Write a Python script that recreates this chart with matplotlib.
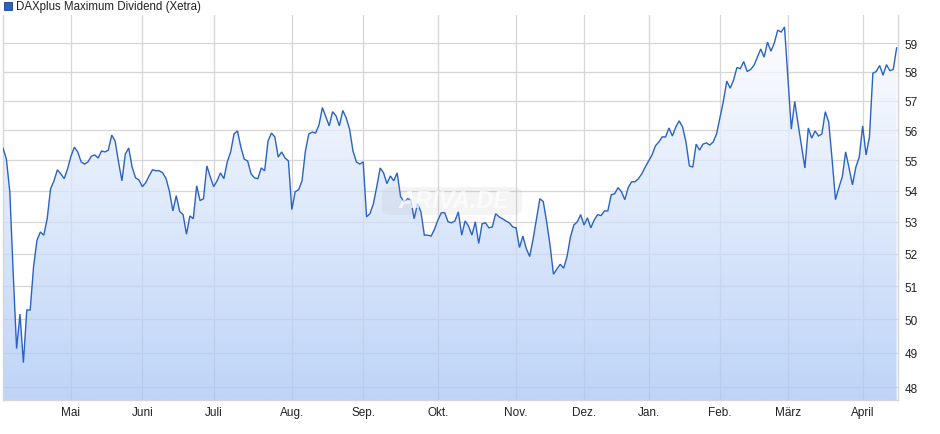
import numpy as np
import pandas as pd
import matplotlib
matplotlib.use("Agg")
import matplotlib.pyplot as plt
from matplotlib.patches import FancyBboxPatch, Rectangle
from matplotlib.colors import LinearSegmentedColormap

# ---------------- data ----------------
series_name = "DAXplus Maximum Dividend (Xetra)"
holidays = ["2025-04-18", "2025-04-21", "2025-05-01", "2025-12-24", "2025-12-25",
            "2025-12-26", "2025-12-31", "2026-01-01", "2026-04-03", "2026-04-06"]
start_date = "2025-04-01"
end_date = "2026-04-17"

values = [
    55.4, 55.03, 53.97, 51.4, 49.12, 50.15, 48.71, 50.27, 50.27, 51.6,
    52.42, 52.68, 52.58, 53.10, 54.06, 54.32, 54.68, 54.55, 54.39, 54.71,
    55.13, 55.43, 55.27, 54.94, 54.87, 54.94, 55.13, 55.17, 55.07, 55.3,
    55.27, 55.33, 55.83, 55.63, 54.94, 54.32, 55.2, 55.4, 54.77, 54.42,
    54.35, 54.13, 54.26, 54.48, 54.68, 54.65, 54.65, 54.58, 54.39, 53.97,
    53.35, 53.84, 53.33,
    53.23, 52.61, 53.19, 53.1, 54.16, 53.68, 53.74, 54.81, 54.45, 54.13,
    54.32, 54.58, 54.39, 54.94, 55.27, 55.87, 55.97, 55.43, 55.03, 54.97,
    54.55, 54.42, 54.39, 54.74, 54.65, 55.63, 55.9, 55.77, 55.1, 55.27,
    55.07, 54.97, 53.39, 53.97, 54.03, 54.32, 55.3, 55.87, 55.93, 55.9,
    56.17, 56.76, 56.45, 56.14, 56.62, 56.48, 56.14, 56.66, 56.41, 56.03,
    55.3, 54.94,
    54.87, 54.94, 53.16, 53.26, 53.58, 54.13, 54.74, 54.58, 54.23, 54.48,
    54.32, 54.58, 53.81, 53.65, 53.74, 53.71, 53.1, 53.58, 53.32, 52.58,
    52.58, 52.55, 52.77, 53.06, 53.29, 53.29, 53.0, 52.97, 53.03, 53.32,
    52.58, 53.03, 52.87, 52.58, 53.0, 52.32, 52.94, 52.97, 52.81, 52.84,
    53.26, 53.16, 53.1, 53.03, 52.97, 52.84, 52.81, 52.19, 52.55, 52.16,
    51.91, 52.45,
    53.1, 53.74, 53.65, 53.0, 52.26, 51.36, 51.52, 51.67, 51.55, 51.91,
    52.52, 52.9, 53.0, 53.23, 52.9, 53.13, 52.81, 53.06, 53.23, 53.2,
    53.35, 53.35,
    53.87, 53.9, 54.1, 53.97, 53.71, 54.1, 54.29, 54.29, 54.39, 54.55,
    54.77, 54.97, 55.17, 55.47, 55.6, 55.77, 55.77, 56.07, 55.8, 56.1,
    56.31, 56.1, 55.6, 54.81, 54.77, 55.53, 55.33, 55.53, 55.57, 55.5,
    55.6,
    55.87, 56.41, 56.97, 57.67, 57.42, 57.7, 58.14, 58.1, 58.35, 58.0,
    58.07, 58.21, 58.5, 58.79, 58.5, 59.03, 58.71, 59.0, 59.46, 59.39,
    59.57,
    57.8,
    56.03, 56.97, 56.2, 55.47, 54.74, 56.07, 55.73, 55.97, 55.8, 55.87,
    56.62, 56.27, 55.03, 53.71, 54.1, 54.45, 55.27, 54.74, 54.19, 54.77,
    55.1, 56.14, 55.17, 55.77, 57.94, 58.0, 58.21, 57.87, 58.24, 58.03,
    58.07, 58.83,
]

month_labels = ["Mai", "Juni", "Juli", "Aug.", "Sep.", "Okt.", "Nov.", "Dez.",
                "Jan.", "Feb.", "März", "April"]
y_ticks = [48, 49, 50, 51, 52, 53, 54, 55, 56, 57, 58, 59]

# ---------------- derived ----------------
dates = pd.bdate_range(start_date, end_date)
dates = dates[~dates.isin(pd.to_datetime(holidays))]
n = min(len(dates), len(values))
dates = dates[:n]
y = np.array(values[:n])
x = np.arange(n)

month_id = dates.year * 12 + dates.month
tick_pos = [i for i in range(1, n) if month_id[i] != month_id[i - 1]]

# ---------------- figure ----------------
W, H = 940, 435
fig = plt.figure(figsize=(W / 100, H / 100), dpi=100)
ax = fig.add_axes([3 / W, 1 - 401 / H, (898 - 3) / W, (401 - 16) / H])
ax.set_yscale("log")
ax.set_xlim(0, n - 1 + 0.4)
ax.set_ylim(47.63, 60.0)

# grid (underneath the semi-transparent fill)
ax.set_yticks(y_ticks)
ax.set_yticks([], minor=True)
ax.set_xticks(tick_pos)
ax.set_xticklabels(month_labels[:len(tick_pos)])
ax.set_yticklabels([str(t) for t in y_ticks])
for t in y_ticks:
    ax.axhline(t, color="#d6d6d6", lw=0.9, zorder=0.5)
for p in tick_pos:
    ax.axvline(p, color="#d6d6d6", lw=0.9, zorder=0.5)

# gradient fill under the line
poly = ax.fill_between(x, y, 1, color="none", linewidth=0)
cmap = LinearSegmentedColormap.from_list("g", ["#a9c6f5", "#ffffff"])
grad = np.linspace(0, 1, 256).reshape(-1, 1)
im = ax.imshow(grad, extent=[0, 1, 0, 1], transform=ax.transAxes, origin="lower",
               cmap=cmap, aspect="auto", zorder=1, interpolation="bilinear",
               alpha=0.75)
im.set_clip_path(poly.get_paths()[0], poly.get_transform())

ax.plot(x, y, color="#2b62c4", lw=1.0, zorder=4, solid_joinstyle="miter")

ax.yaxis.tick_right()
ax.tick_params(axis="y", length=0, pad=5, labelsize=8.5, labelcolor="#222222")
ax.tick_params(axis="x", length=0, pad=4, labelsize=8.5, labelcolor="#222222")
for lab in ax.get_yticklabels():
    lab.set_family(["Liberation Sans", "DejaVu Sans"])
for lab in ax.get_xticklabels():
    lab.set_family(["Liberation Sans Narrow", "Liberation Sans", "DejaVu Sans"])

for s in ["left", "right", "bottom"]:
    ax.spines[s].set_color("#d6d6d6")
    ax.spines[s].set_linewidth(1.0)
ax.spines["top"].set_visible(False)

# watermark
wm = FancyBboxPatch((382 / W, 1 - 216 / H), 140 / W, 28 / H,
                    boxstyle="round,pad=0,rounding_size=0.012",
                    transform=fig.transFigure, facecolor="#9a9a9a", alpha=0.10,
                    edgecolor="none", zorder=5)
fig.patches.append(wm)
fig.text(454 / W, 1 - 202 / H, "ARIVA.DE", ha="center", va="center",
         fontsize=17, fontstyle="italic", fontweight="bold", color="white",
         alpha=0.7, family=["Liberation Sans", "DejaVu Sans"], zorder=6)

# legend
fig.patches.append(Rectangle((4 / W, 1 - 11 / H), 8 / W, 8 / H, transform=fig.transFigure,
                             facecolor="#2b62c4", edgecolor="#1a3f8a", lw=0.6))
fig.text(16 / W, 1 - 7 / H, series_name, ha="left", va="center", fontsize=8.3,
         color="#222222", family=["Liberation Sans", "DejaVu Sans"])

fig.savefig("out.png", dpi=100)
